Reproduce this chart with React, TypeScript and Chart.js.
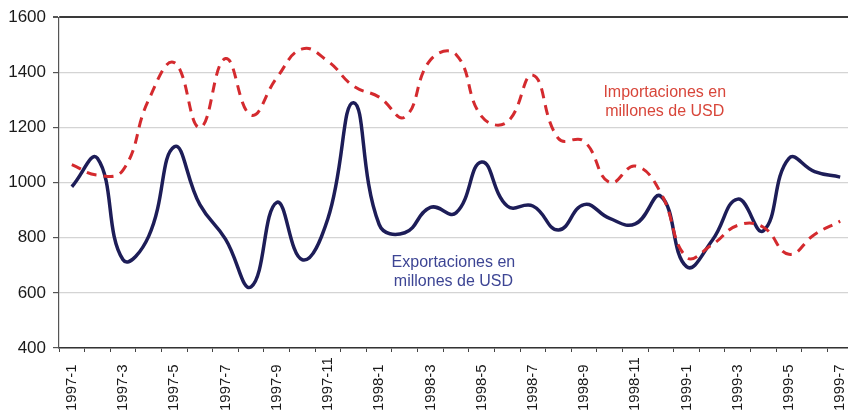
import React, { useEffect, useRef } from "react";
import { Chart, registerables } from "chart.js";

Chart.register(...registerables);

const categories = [
  "1997-1", "1997-2", "1997-3", "1997-4", "1997-5", "1997-6", "1997-7", "1997-8",
  "1997-9", "1997-10", "1997-11", "1997-12", "1998-1", "1998-2", "1998-3", "1998-4",
  "1998-5", "1998-6", "1998-7", "1998-8", "1998-9", "1998-10", "1998-11", "1998-12",
  "1999-1", "1999-2", "1999-3", "1999-4", "1999-5", "1999-6", "1999-7",
];

const exportaciones = [
  985, 1088, 720, 805, 1130, 920, 795, 622, 928, 720, 870, 1290, 848, 818, 910, 890,
  1075, 915, 915, 828, 920, 870, 850, 950, 695, 790, 940, 825, 1088, 1040, 1020,
];

const importaciones = [
  1065, 1027, 1045, 1300, 1435, 1200, 1450, 1245, 1380, 1485, 1440, 1350, 1310, 1238, 1445, 1465,
  1240, 1220, 1390, 1160, 1150, 1000, 1060, 962, 730, 775, 845, 838, 740, 812, 860,
];

const yTicks = [400, 600, 800, 1000, 1200, 1400, 1600];

const importLabel = ["Importaciones en", "millones de USD"];
const exportLabel = ["Exportaciones en", "millones de USD"];

const FONT = '"Liberation Sans", Arial, sans-serif';

const overlayPlugin = {
  id: "overlay",
  afterDraw(chart: any) {
    const { ctx, scales } = chart;
    const x = scales.x;
    const y = scales.y;
    ctx.save();
    // x-axis labels, rotated, starting from the bottom
    ctx.font = `15px ${FONT}`;
    ctx.fillStyle = "#1a1a1a";
    ctx.textAlign = "left";
    ctx.textBaseline = "middle";
    categories.forEach((lab, i) => {
      if (i % 2 !== 0) return;
      const px = x.getPixelForValue(i);
      ctx.save();
      ctx.translate(px, 411);
      ctx.rotate(-Math.PI / 2);
      ctx.fillText(lab, 0, 0);
      ctx.restore();
    });
    // series annotations
    ctx.font = `16px ${FONT}`;
    ctx.textAlign = "center";
    ctx.textBaseline = "middle";
    ctx.fillStyle = "#d8463a";
    const ix = x.getPixelForValue(23.15);
    ctx.fillText(importLabel[0], ix, y.getPixelForValue(1325));
    ctx.fillText(importLabel[1], ix, y.getPixelForValue(1257));
    ctx.fillStyle = "#3d4594";
    const ex = x.getPixelForValue(14.9);
    ctx.fillText(exportLabel[0], ex, y.getPixelForValue(711));
    ctx.fillText(exportLabel[1], ex, y.getPixelForValue(640));
    ctx.restore();
  },
};

export default function App() {
  const ref = useRef<HTMLCanvasElement>(null);

  useEffect(() => {
    if (!ref.current) return;
    const chart = new Chart(ref.current, {
      type: "line",
      data: {
        labels: categories,
        datasets: [
          {
            label: "Importaciones en millones de USD",
            data: importaciones,
            borderColor: "#d42a2e",
            borderWidth: 3,
            borderDash: [10, 7],
            pointRadius: 0,
            tension: 0.45,
            fill: false,
          },
          {
            label: "Exportaciones en millones de USD",
            data: exportaciones,
            borderColor: "#1d1d58",
            borderWidth: 3.5,
            pointRadius: 0,
            tension: 0.45,
            fill: false,
          },
        ],
      },
      options: {
        animation: false,
        responsive: false,
        maintainAspectRatio: false,
        layout: { padding: { top: 11, bottom: 65, left: 0, right: 0 } },
        plugins: {
          legend: { display: false },
          tooltip: { enabled: false },
        },
        scales: {
          x: {
            offset: true,
            grid: {
              offset: true,
              drawOnChartArea: false,
              drawTicks: true,
              tickLength: 4,
              tickColor: "#444",
            },
            border: { display: true, color: "#333", width: 1.5 },
            ticks: { display: false, autoSkip: false },
          },
          y: {
            min: 400,
            max: 1600,
            afterFit(scale: any) {
              scale.width = 59;
            },
            afterBuildTicks(scale: any) {
              scale.ticks = yTicks.map((v) => ({ value: v }));
            },
            grid: {
              color: (c: any) => (c.tick && c.tick.value === 1600 ? "#3a3a3a" : "#d4d4d4"),
              lineWidth: (c: any) => (c.tick && c.tick.value === 1600 ? 2 : 1.2),
              tickColor: "#555",
              tickLength: 6,
            },
            border: { display: true, color: "#555", width: 1.2 },
            ticks: {
              padding: 7,
              color: "#1a1a1a",
              font: { family: FONT, size: 17 },
              callback: (v: any) => String(v),
            },
          },
        },
      },
      plugins: [overlayPlugin],
    });
    return () => chart.destroy();
  }, []);

  return (
    <div style={{ position: "fixed", left: 0, top: 0, width: 853, height: 417, background: "#fff" }}>
      <canvas ref={ref} width={853} height={417} style={{ width: 853, height: 417, display: "block" }} />
    </div>
  );
}
